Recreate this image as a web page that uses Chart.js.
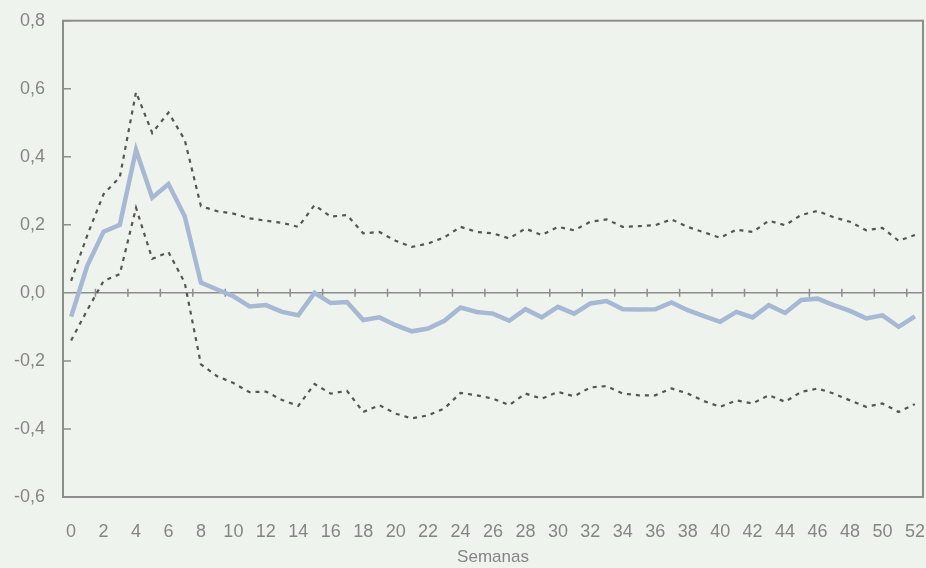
<!DOCTYPE html>
<html lang="es">
<head>
    <meta charset="UTF-8">
    <title>Semanas</title>
    <script src="https://cdn.jsdelivr.net/npm/chart.js"></script>
    <style>
        body {
            margin: 0;
            background: #eff3ed;
        }

        #chart {
            display: block;
        }
    </style>
</head>
<body>
    <canvas id="chart" width="926" height="568"></canvas>

    <script>
        // semanas 0..52
        const weeks = [0, 1, 2, 3, 4, 5, 6, 7, 8, 9, 10, 11, 12, 13, 14, 15, 16, 17, 18, 19, 20, 21, 22, 23, 24, 25, 26,
            27, 28, 29, 30, 31, 32, 33, 34, 35, 36, 37, 38, 39, 40, 41, 42, 43, 44, 45, 46, 47, 48, 49, 50, 51, 52];

        // respuesta central (linea azul)
        const central = [-0.07, 0.08, 0.18, 0.2, 0.42, 0.28, 0.32, 0.225, 0.03, 0.01, -0.01, -0.04, -0.036, -0.056, -0.066,
            0.0, -0.03, -0.027, -0.08, -0.072, -0.095, -0.113, -0.105, -0.082, -0.043, -0.056, -0.061, -0.082, -0.048,
            -0.072, -0.041, -0.061, -0.031, -0.024, -0.048, -0.049, -0.048, -0.028, -0.051, -0.068, -0.085, -0.056,
            -0.072, -0.036, -0.059, -0.021, -0.017, -0.036, -0.053, -0.075, -0.066, -0.1, -0.069];

        // bandas de confianza (lineas punteadas)
        const upper = [0.035, 0.17, 0.29, 0.34, 0.59, 0.47, 0.53, 0.45, 0.255, 0.24, 0.233, 0.219, 0.212, 0.206, 0.194,
            0.258, 0.224, 0.229, 0.175, 0.179, 0.153, 0.135, 0.145, 0.163, 0.194, 0.179, 0.175, 0.16, 0.189, 0.17,
            0.194, 0.184, 0.209, 0.216, 0.194, 0.196, 0.199, 0.216, 0.194, 0.178, 0.162, 0.186, 0.179, 0.212, 0.199,
            0.229, 0.241, 0.222, 0.209, 0.184, 0.191, 0.153, 0.17];

        const lower = [-0.14, -0.05, 0.035, 0.055, 0.25, 0.1, 0.12, 0.03, -0.21, -0.245, -0.265, -0.292, -0.29, -0.315,
            -0.332, -0.268, -0.296, -0.288, -0.35, -0.33, -0.355, -0.369, -0.36, -0.34, -0.294, -0.301, -0.311, -0.33,
            -0.296, -0.311, -0.291, -0.304, -0.278, -0.274, -0.296, -0.301, -0.301, -0.281, -0.296, -0.318, -0.335,
            -0.316, -0.325, -0.301, -0.32, -0.291, -0.281, -0.296, -0.316, -0.335, -0.325, -0.35, -0.327];

        const yMin = -0.6;
        const yMax = 0.8;
        const yStep = 0.2;

        const frameColor = '#8d8d8d';

        // marco, linea del cero y marcas interiores
        const framePlugin = {
            id: 'frame',
            beforeDatasetsDraw(chart) {
                const { ctx, chartArea: a, scales: { x, y } } = chart;
                ctx.save();
                ctx.strokeStyle = frameColor;
                ctx.lineWidth = 2;
                ctx.strokeRect(a.left, a.top, a.width, a.height);

                const y0 = y.getPixelForValue(0);
                ctx.lineWidth = 1.5;
                ctx.beginPath();
                ctx.moveTo(a.left, y0);
                ctx.lineTo(a.right, y0);
                y.ticks.forEach(t => {
                    const py = y.getPixelForValue(t.value);
                    ctx.moveTo(a.left, py);
                    ctx.lineTo(a.left + 8, py);
                });
                for (let i = 2; i < weeks.length; i += 2) {
                    const px = (x.getPixelForValue(i - 1) + x.getPixelForValue(i)) / 2;
                    ctx.moveTo(px, y0 - 4);
                    ctx.lineTo(px, y0 + 4);
                }
                ctx.stroke();
                ctx.restore();
            }
        };

        Chart.defaults.font.family = "'Liberation Sans', Arial, sans-serif";
        Chart.defaults.color = '#858585';

        const dashed = (label, data) => ({
            label,
            data,
            borderColor: '#555555',
            borderWidth: 2.2,
            borderDash: [4, 5],
            pointRadius: 0,
            tension: 0,
            fill: false
        });

        new Chart(document.getElementById('chart'), {
            type: 'line',
            data: {
                labels: weeks,
                datasets: [
                    dashed('Banda superior', upper),
                    dashed('Banda inferior', lower),
                    {
                        label: 'Respuesta',
                        data: central,
                        borderColor: '#a7b8d4',
                        borderWidth: 4.5,
                        pointRadius: 0,
                        tension: 0,
                        fill: false
                    }
                ]
            },
            options: {
                responsive: false,
                animation: false,
                layout: {
                    padding: { top: 20.7, right: 3, bottom: 0, left: 0 }
                },
                plugins: {
                    legend: { display: false },
                    tooltip: { enabled: false }
                },
                scales: {
                    x: {
                        type: 'category',
                        offset: true,
                        grid: { display: false, drawTicks: false },
                        border: { display: false },
                        ticks: {
                            autoSkip: false,
                            maxRotation: 0,
                            padding: 24,
                            font: { size: 18 },
                            callback: (v, i) => i % 2 === 0 ? String(weeks[i]) : ''
                        },
                        title: {
                            display: true,
                            text: 'Semanas',
                            font: { size: 17 },
                            padding: { top: 0, bottom: 0 }
                        },
                        afterFit: s => {
                            s.height = 71;
                            s.paddingLeft = 0;
                            s.paddingRight = 0;
                        }
                    },
                    y: {
                        min: yMin,
                        max: yMax,
                        grid: { display: false, drawTicks: false },
                        border: { display: false },
                        ticks: {
                            stepSize: yStep,
                            padding: 18,
                            font: { size: 18 },
                            callback: v => Math.abs(v) < 1e-9 ? '0,0' : v.toFixed(1).replace('.', ',')
                        },
                        afterFit: s => {
                            s.width = 63;
                            s.paddingTop = 0;
                            s.paddingBottom = 0;
                        }
                    }
                }
            },
            plugins: [framePlugin]
        });
    </script>
</body>
</html>
